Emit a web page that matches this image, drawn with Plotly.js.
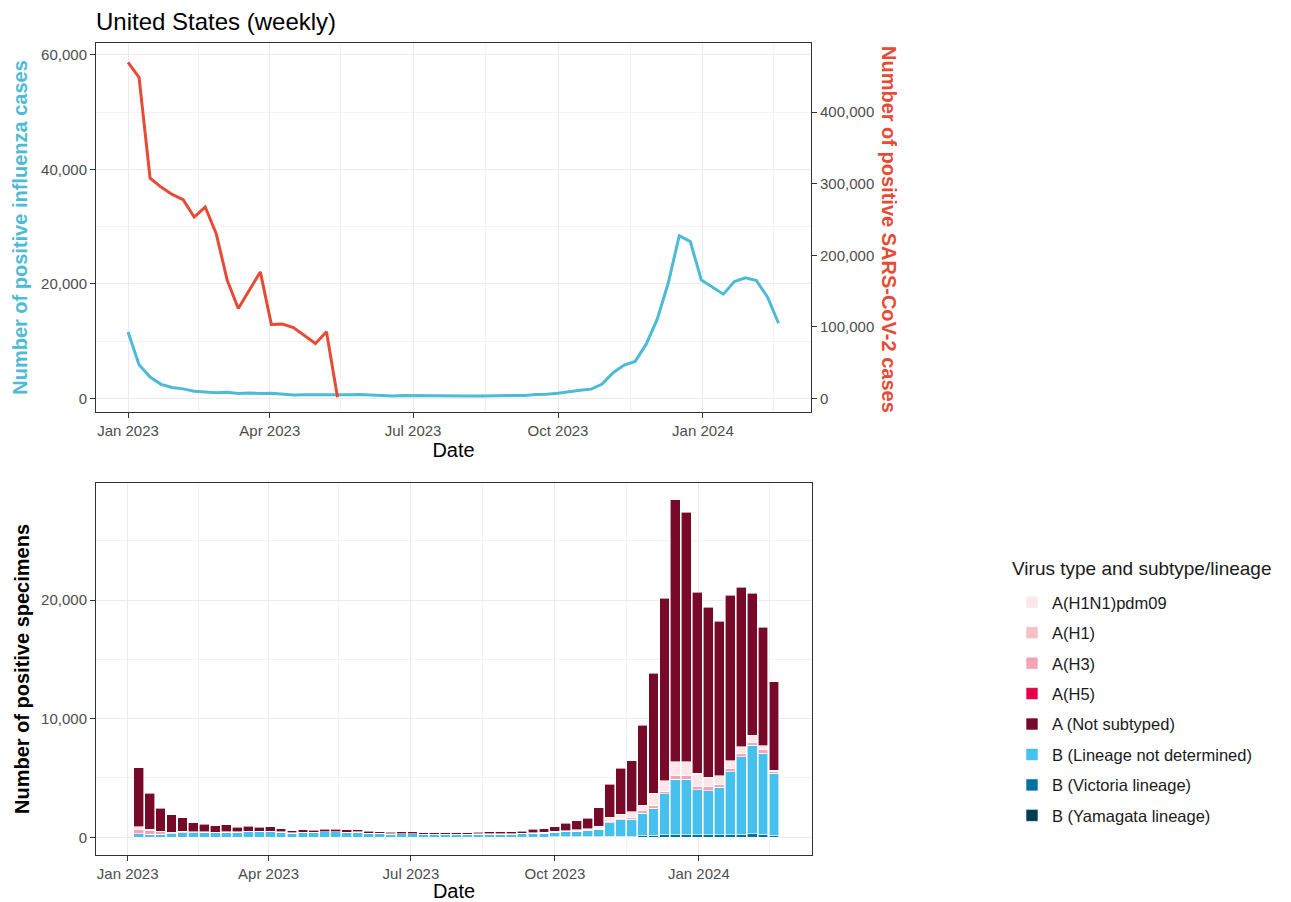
<!DOCTYPE html>
<html>
<head>
<meta charset="utf-8">
<script src="https://cdn.plot.ly/plotly-3.0.1.min.js"></script>
<style>
html,body{margin:0;padding:0;background:#fff;}
#chart{width:1291px;height:902px;}
</style>
</head>
<body>
<div id="chart"></div>
<script>
// Weekly dates (week start)
const weeks = [
"2023-01-01","2023-01-08","2023-01-15","2023-01-22","2023-01-29","2023-02-05","2023-02-12","2023-02-19","2023-02-26",
"2023-03-05","2023-03-12","2023-03-19","2023-03-26","2023-04-02","2023-04-09","2023-04-16","2023-04-23","2023-04-30",
"2023-05-07","2023-05-14","2023-05-21","2023-05-28","2023-06-04","2023-06-11","2023-06-18","2023-06-25","2023-07-02",
"2023-07-09","2023-07-16","2023-07-23","2023-07-30","2023-08-06","2023-08-13","2023-08-20","2023-08-27","2023-09-03",
"2023-09-10","2023-09-17","2023-09-24","2023-10-01","2023-10-08","2023-10-15","2023-10-22","2023-10-29","2023-11-05",
"2023-11-12","2023-11-19","2023-11-26","2023-12-03","2023-12-10","2023-12-17","2023-12-24","2023-12-31","2024-01-07",
"2024-01-14","2024-01-21","2024-01-28","2024-02-04","2024-02-11","2024-02-18"
];
const sarsWeeks = weeks.slice(0, 20);
const barWeeks = weeks.slice(1);

// Top panel: positive influenza cases (left axis)
const fluCases = [11600,
5870,3710,2440,1880,1650,1230,1100,980,1040,840,930,840,900,700,560,620,600,670,670,620,
650,530,470,420,470,450,390,390,390,390,390,420,450,450,470,500,670,700,900,1180,1400,1600,
2500,4470,5800,6450,9460,13820,20140,28430,27390,20650,19380,18200,20420,21070,20560,17700,13110];

// Top panel: positive SARS-CoV-2 cases (right axis)
const sarsCases = [469700,448700,307800,295300,285000,277700,253400,267400,230200,165000,
125600,151000,176700,103300,103700,99000,88300,76700,93000,1400];

// Bottom panel: positive specimens by virus type / subtype / lineage
const bYamagata = [0,0,0,0,0,0,0,0,0,0,0,0,0,0,0,0,0,0,0,0,0,0,0,0,0,0,0,0,0,0,0,0,0,0,0,0,0,0,0,0,0,0,0,0,0,0,0,0,0,0,0,0,0,0,0,0,0,0,0];
const bVictoria = [10,10,10,10,10,10,10,10,10,10,10,10,10,10,10,10,10,10,10,10,10,10,10,10,10,10,10,10,10,10,10,10,10,10,10,10,20,20,30,40,50,50,
60,80,100,100,150,180,200,200,200,220,200,200,220,250,280,250,180];
const bLND = [270,240,240,270,390,390,370,370,410,410,440,440,440,410,350,390,390,440,440,390,410,320,290,250,270,270,230,230,230,230,230,240,250,250,260,270,300,310,370,410,450,490,
610,1150,1360,1440,1870,2260,3450,4690,4690,3770,3730,4010,5310,6550,7470,6830,5210];
const aH5 = [0,0,0,0,0,0,0,0,0,0,0,0,0,0,0,0,0,0,0,0,0,0,0,0,0,0,0,0,0,0,0,0,0,0,0,0,0,0,0,0,0,0,0,0,0,0,0,0,0,0,0,0,0,0,0,0,0,0,0];
const aH3 = [340,300,200,120,100,60,50,40,40,30,30,30,30,20,20,20,20,20,20,20,20,20,20,20,20,20,20,20,20,20,20,20,20,20,20,20,30,30,30,40,50,50,
80,80,140,140,220,280,220,340,340,280,340,280,280,280,280,280,140];
const aH1 = [0,0,0,0,0,0,0,0,0,0,0,0,0,0,0,0,0,0,0,0,0,0,0,0,0,0,0,0,0,0,0,0,0,0,0,0,0,0,0,0,0,0,0,0,0,0,0,0,0,0,0,0,0,0,0,0,0,0,0];
const aH1N1pdm09 = [280,120,50,30,30,20,20,10,10,10,10,10,10,10,10,10,10,10,10,10,10,10,10,10,10,10,10,10,10,10,10,10,20,20,20,30,40,50,60,80,100,120,
200,370,340,480,480,980,900,1120,1120,1120,790,700,650,560,560,370,140];
const aNotSubtyped = [4970,3040,1940,1450,1120,750,650,550,570,380,440,350,410,250,170,190,170,190,190,190,200,170,140,130,160,140,120,120,120,120,120,140,150,150,160,170,280,290,410,610,750,890,
1550,2790,3860,4290,6740,10120,15370,22080,21040,15260,14320,13010,13960,13430,11970,9970,7440];

const xTickVals = ["2023-01-01","2023-04-01","2023-07-01","2023-10-01","2024-01-01"];
const xTickText = ["Jan 2023","Apr 2023","Jul 2023","Oct 2023","Jan 2024"];
const xMinorVals = ["2023-02-15","2023-05-16","2023-08-16","2023-11-16","2024-02-15"];

const FLU = "#4DBBD5", SARS = "#E64B35";
const FONT = "Liberation Sans, Arial, sans-serif";
const W = 1291, H = 902;
const px = v => v / W, py = v => 1 - v / H;

// stacking order bottom-up, with legend rank giving the legend order
const series = [
  {name:"B (Yamagata lineage)", y:bYamagata, color:"#003D52", rank:8},
  {name:"B (Victoria lineage)", y:bVictoria, color:"#00729E", rank:7},
  {name:"B (Lineage not determined)", y:bLND, color:"#46C1EF", rank:6},
  {name:"A(H5)", y:aH5, color:"#E5004A", rank:4},
  {name:"A(H3)", y:aH3, color:"#F6A2B8", rank:3},
  {name:"A(H1)", y:aH1, color:"#F7C0C8", rank:2},
  {name:"A(H1N1)pdm09", y:aH1N1pdm09, color:"#FDE6EA", rank:1},
  {name:"A (Not subtyped)", y:aNotSubtyped, color:"#760A28", rank:5}
];

const traces = [
  {type:"scatter", mode:"lines", x:weeks, y:fluCases, xaxis:"x", yaxis:"y",
   line:{color:FLU, width:3}, showlegend:false, name:"Influenza"},
  {type:"scatter", mode:"lines", x:sarsWeeks, y:sarsCases, xaxis:"x", yaxis:"y2",
   line:{color:SARS, width:3}, showlegend:false, name:"SARS-CoV-2"}
];
series.forEach(s => traces.push({
  type:"bar", x:barWeeks, y:s.y, name:s.name, xaxis:"x2", yaxis:"y3",
  width: 6.3*24*3600*1000,
  marker:{color:s.color, line:{color:"#FFFFFF", width:0.6}},
  legendrank:s.rank, legendgroup:s.name
}));

const gridMajor = "#EBEBEB", gridMinor = "#F3F3F3";
const common = {
  showline:true, mirror:true, linecolor:"#333333", linewidth:1,
  ticks:"outside", ticklen:5, tickcolor:"#333333", tickwidth:1,
  tickfont:{family:FONT, size:15, color:"#4D4D4D"},
  gridcolor:gridMajor, gridwidth:1, zeroline:false
};
const xCommon = Object.assign({}, common, {
  type:"date", tickmode:"array", tickvals:xTickVals, ticktext:xTickText,
  minor:{tickmode:"array", tickvals:xMinorVals, showgrid:true, gridcolor:gridMinor, ticklen:0},
  title:{text:"Date", font:{family:FONT, size:20, color:"#000"}, standoff:2}
});

const layout = {
  width:W, height:H, margin:{l:0, r:0, t:0, b:0},
  paper_bgcolor:"#fff", plot_bgcolor:"#fff",
  font:{family:FONT},
  barmode:"stack", bargap:0,
  title:{text:"United States (weekly)", font:{family:FONT, size:24, color:"#000"},
         x:px(96), xanchor:"left", xref:"paper", y:py(22), yanchor:"middle", yref:"container"},
  xaxis:Object.assign({}, xCommon, {domain:[px(96), px(811)], anchor:"y",
         range:["2022-12-11T16:00:00","2024-03-09T15:00:00"],
         title:{text:"Date", font:{family:FONT, size:20, color:"#000"}, standoff:4}}),
  yaxis:Object.assign({}, common, {domain:[py(412), py(43)], anchor:"x",
         range:[-2394, 62094], tickvals:[0,20000,40000,60000], tickformat:",",
         minor:{tickmode:"array", tickvals:[10000,30000,50000], showgrid:true, gridcolor:gridMinor, ticklen:0},
         title:{text:"<b>Number of positive influenza cases</b>", font:{family:FONT, size:20, color:FLU}, standoff:8}}),
  yaxis2:Object.assign({}, common, {overlaying:"y", side:"right", anchor:"x",
         range:[-19152, 496752], tickvals:[0,100000,200000,300000,400000], tickformat:",",
         showgrid:false, mirror:false}),
  xaxis2:Object.assign({}, xCommon, {domain:[px(96), px(812)], anchor:"y3",
         range:["2022-12-11T18:00:00","2024-03-13T07:00:00"]}),
  yaxis3:Object.assign({}, common, {domain:[py(855), py(483)], anchor:"x2",
         range:[-1492, 29861], tickvals:[0,10000,20000], tickformat:",",
         minor:{tickmode:"array", tickvals:[5000,15000,25000], showgrid:true, gridcolor:gridMinor, ticklen:0},
         title:{text:"<b>Number of positive specimens</b>", font:{family:FONT, size:20, color:"#000"}, standoff:6}}),
  legend:{x:px(1012), y:py(585), xanchor:"left", yanchor:"top",
          font:{family:FONT, size:16.5, color:"#1A1A1A"},
          traceorder:"grouped", tracegroupgap:6, bgcolor:"rgba(0,0,0,0)", itemwidth:30},
  annotations:[
    {text:"<b>Number of positive SARS-CoV-2 cases</b>", textangle:90, xref:"paper", yref:"paper",
     x:px(889), y:py(229), xanchor:"center", yanchor:"middle", showarrow:false,
     font:{family:FONT, size:20, color:SARS}},
    {text:"Virus type and subtype/lineage", xref:"paper", yref:"paper",
     x:px(1010), y:py(568), xanchor:"left", yanchor:"middle", showarrow:false,
     font:{family:FONT, size:19, color:"#1A1A1A"}}
  ]
};

Plotly.newPlot("chart", traces, layout, {displayModeBar:false, staticPlot:true});
</script>
</body>
</html>
